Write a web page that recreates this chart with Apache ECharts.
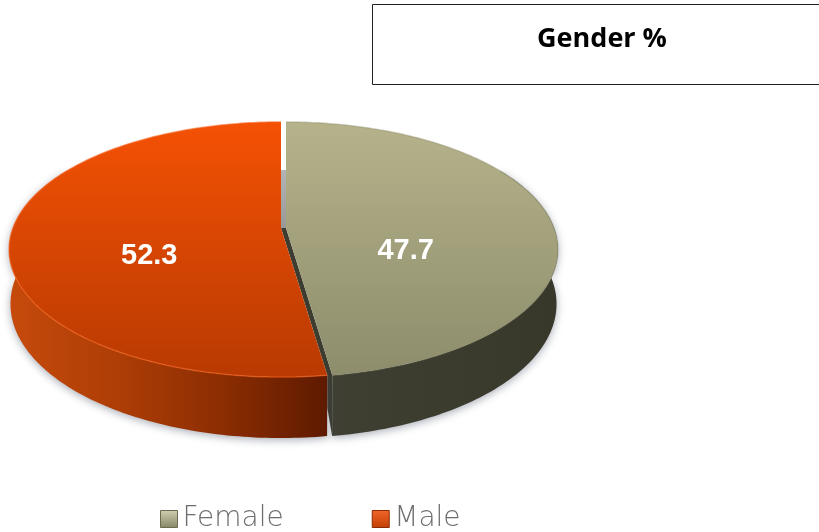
<!DOCTYPE html>
<html>
<head>
<meta charset="utf-8">
<title>Gender %</title>
<script src="https://cdn.jsdelivr.net/npm/echarts@6/dist/echarts.min.js"></script>
<style>
  html, body { margin: 0; padding: 0; background: #fff; }
  #chart { width: 819px; height: 532px; }
</style>
</head>
<body>
<div id="chart"></div>
<script>
const categories = ['Female', 'Male']
const values = [47.7, 52.3]
const chartTitle = 'Gender %'

const total = values.reduce((a, b) => a + b, 0)
const RX = 268, RY = 123.9, K = 0.1686
const centers = [[286, 228], [281, 228]]
const labelDist = [0.45, 0.49]
const labelShift = [27, 24]

// perspective projection of the disc, t clockwise from the top in radians
function proj(t, r, c, bottom) {
  const u = Math.sin(t) * r, v = -Math.cos(t) * r
  const w = 1 - K * v
  if (bottom) return [c[0] + 0.995 * RX * u / w, c[1] + 53.4 + 1.051 * RY * v / w]
  return [c[0] + RX * u / w, c[1] + RY * v / w]
}
function arc(t0, t1, c, bottom) {
  const pts = []
  const n = Math.ceil(Math.abs(t1 - t0) / (Math.PI / 180))
  for (let i = 0; i <= n; i++) pts.push(proj(t0 + (t1 - t0) * i / n, 1, c, bottom))
  return pts
}
const vGrad = (a, b) => new echarts.graphic.LinearGradient(0, 0, 0, 1, [
  { offset: 0, color: a }, { offset: 1, color: b }
])
const hGrad = stops => new echarts.graphic.LinearGradient(0, 0, 1, 0,
  stops.map((color, i) => ({ offset: i / (stops.length - 1), color })))

const split = values[0] / total * Math.PI * 2
const slices = [
  {
    t0: 0, t1: split, wall: [Math.PI / 3, split],
    top: vGrad('#b6b38b', '#8d8d6c'), rim: '#8a8a68', rimOpacity: 0.4,
    side: hGrad(['#3f4033', '#3c3d2f', '#3a3a2d', '#38382a'])
  },
  {
    t0: split, t1: Math.PI * 2, wall: [split, Math.PI * 5 / 3],
    top: vGrad('#f45104', '#b83a02'), rim: '#f5601a', rimOpacity: 0.6,
    side: hGrad(['#c64a0c', '#ae3e06', '#8c2d02', '#5e1a00'])
  }
]

function renderSlice(params, api) {
  const i = params.seriesIndex
  const s = slices[i]
  const c = centers[i]
  const top = arc(s.t0, s.t1, c, false)
  const wallTop = arc(s.wall[0], s.wall[1], c, false)
  const wallBottom = arc(s.wall[1], s.wall[0], c, true)
  const children = [
    {
      type: 'polygon', z2: 1,
      shape: { points: wallTop.concat(wallBottom) },
      style: { fill: s.side, shadowBlur: 9, shadowColor: 'rgba(60,70,90,0.45)', shadowOffsetY: 2 }
    }
  ]
  if (i === 0) {
    // the gap between the two slices: inner faces seen through it
    const backLow = proj(0, 1, c, true)
    const other = centers[1]
    const rimA = proj(split, 1, other, false), rimB = proj(split, 1, c, false)
    const lowB = proj(split, 1, c, true)
    children.push({
      type: 'polygon', z2: 2,
      shape: { points: [[other[0], backLow[1]], [c[0], backLow[1]], c, other] },
      style: { fill: vGrad('#b4b4b4', '#989898') }
    }, {
      type: 'polygon', z2: 2,
      shape: { points: [other, c, rimB, lowB, [rimA[0], lowB[1] - 28], rimA] },
      style: { fill: '#3c3d30' }
    })
  }
  children.push({
    type: 'polygon', z2: 3,
    shape: { points: [c].concat(top) },
    style: { fill: s.top }
  }, {
    type: 'polyline', z2: 4,
    shape: { points: top },
    style: { fill: 'none', stroke: s.rim, lineWidth: 1.5, opacity: s.rimOpacity }
  })
  const mid = (s.t0 + s.t1) / 2
  const p = proj(mid, labelDist[i], c, false)
  children.push({
    type: 'text', z2: 5,
    x: p[0], y: p[1] + labelShift[i],
    style: {
      text: String(api.value(0)), fill: '#fff', align: 'center', verticalAlign: 'middle',
      font: 'bold 29px "Liberation Sans", Arial, sans-serif'
    }
  })
  return { type: 'group', children }
}

const myChart = echarts.init(document.getElementById('chart'))
myChart.setOption({
  animation: false,
  title: {
    text: chartTitle,
    left: 602,
    top: 26,
    textAlign: 'center',
    padding: 0,
    textStyle: { fontFamily: '"Open Sans", sans-serif', fontWeight: 'bold', fontSize: 27, color: '#000' }
  },
  legend: {
    left: 160,
    top: 505,
    padding: 0,
    itemWidth: 17,
    itemHeight: 17,
    itemGap: 88,
    selectedMode: false,
    textStyle: { fontFamily: '"DejaVu Sans", sans-serif', fontWeight: 200, fontSize: 28, color: '#6e6e6e' },
    data: [
      { name: categories[0], icon: 'rect', itemStyle: { color: vGrad('#d2d0ae', '#85856a'), borderColor: '#6b6b50', borderWidth: 1 } },
      { name: categories[1], icon: 'rect', itemStyle: { color: vGrad('#f2662a', '#c23f06'), borderColor: '#8a2c04', borderWidth: 1 } }
    ]
  },
  graphic: [
    {
      type: 'rect',
      shape: { x: 372.5, y: 4.5, width: 460, height: 80 },
      style: { fill: '#fff', stroke: '#222', lineWidth: 1 },
      z: -1
    }
  ],
  series: categories.map((name, i) => ({
    name,
    type: 'custom',
    coordinateSystem: 'none',
    renderItem: renderSlice,
    clip: false,
    z: 2 + i,
    data: [values[i]]
  }))
})

window.addEventListener('resize', () => {
  myChart.resize()
})
</script>
</body>
</html>
